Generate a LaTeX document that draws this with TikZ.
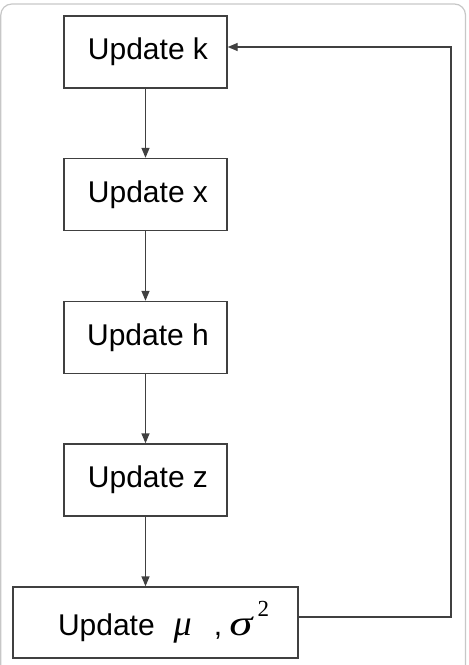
\documentclass[tikz,border=0pt]{standalone}
\usepackage{fontspec}
\setmainfont{Liberation Sans}
\newfontfamily\symfont{Liberation Serif}
\usetikzlibrary{arrows.meta}
\newcommand{\grk}[1]{{\symfont\itshape\fontsize{36}{38}\selectfont #1}}
\begin{document}
\begin{tikzpicture}[x=1pt,y=-1pt,
  stepbox/.style={draw=black!75,line width=1.4pt,fill=white,minimum width=163pt,minimum height=72pt,inner sep=0pt,
    font=\fontsize{30}{36}\selectfont},
  arr/.style={draw=black!75,line width=1.4pt,-{Triangle[length=10pt,width=8pt]}}]
\useasboundingbox (0,0) rectangle (469,665);
\draw[black!22,line width=1.2pt,rounded corners=11pt] (0.8,4) rectangle (465.5,700);
\node[stepbox] (k) at (145.5,52) {\hspace{5pt}Update k};
\node[stepbox] (x) at (145.5,194.5) {\hspace{5pt}Update x};
\node[stepbox] (h) at (145.5,337.5) {\hspace{5pt}Update h};
\node[stepbox] (z) at (145.5,480) {\hspace{5pt}Update z};
\node[stepbox,minimum width=285pt,minimum height=71pt] (m) at (155.5,622.5)
  {\makebox[240pt][l]{\hspace*{22.5pt}Update\hspace{19pt}\grk{μ}\hspace{22pt}, \hspace{-1pt}\scalebox{1.3}[1]{\grk{σ}}\hspace{5pt}{\symfont\raisebox{19pt}{\fontsize{23}{24}\selectfont 2}}}};
\coordinate (fb) at (451,47);
\draw[arr] (k) -- (x);
\draw[arr] (x) -- (h);
\draw[arr] (h) -- (z);
\draw[arr] (z.south) -- (m.north -| z.south);
\draw[arr] ([yshift=5.5pt]m.east) -| (fb) -- (k.east |- fb);
\end{tikzpicture}
\end{document}
